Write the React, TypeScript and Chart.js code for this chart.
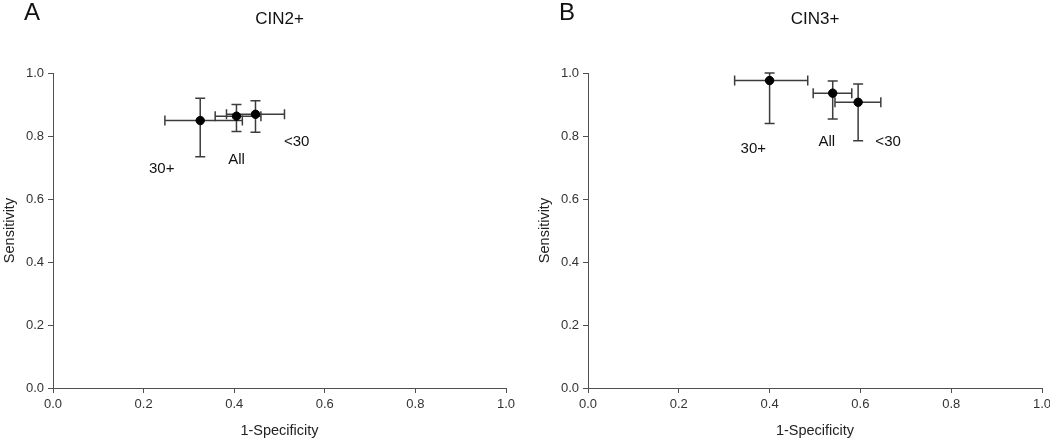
import React, { useEffect, useRef } from "react";
import { Chart, registerables } from "chart.js";

Chart.register(...registerables);

// ---- data ----
const groups = ["30+", "All", "<30"];

const cin2X = [0.325, 0.405, 0.447];
const cin2Y = [0.849, 0.863, 0.869];
const cin2XLow = [0.247, 0.358, 0.383];
const cin2XHigh = [0.418, 0.459, 0.511];
const cin2YLow = [0.734, 0.814, 0.812];
const cin2YHigh = [0.92, 0.9, 0.912];
const cin2LabelX = [0.24, 0.405, 0.538];
const cin2LabelY = [0.697, 0.724, 0.782];

const cin3X = [0.4, 0.539, 0.595];
const cin3Y = [0.976, 0.936, 0.907];
const cin3XLow = [0.323, 0.496, 0.544];
const cin3XHigh = [0.484, 0.581, 0.645];
const cin3YLow = [0.84, 0.854, 0.785];
const cin3YHigh = [1.0, 0.975, 0.965];
const cin3LabelX = [0.364, 0.526, 0.661];
const cin3LabelY = [0.758, 0.782, 0.782];

const axisTicks = [0, 0.2, 0.4, 0.6, 0.8, 1.0];

const FONT = "'Liberation Sans', Arial, sans-serif";
const AXIS_COLOR = "#505050";
const TEXT_COLOR = "#222222";

type PanelData = {
  letter: string;
  title: string;
  x: number[];
  y: number[];
  xLow: number[];
  xHigh: number[];
  yLow: number[];
  yHigh: number[];
  labelX: number[];
  labelY: number[];
};

const errorBarPlugin = {
  id: "errorBars",
  beforeDatasetsDraw(chart: any, _args: any, opts: any) {
    const d: PanelData = opts.data;
    if (!d) return;
    const xs = chart.scales.x;
    const ys = chart.scales.y;
    const ctx = chart.ctx;
    const cap = 5;
    ctx.save();
    ctx.strokeStyle = "#3c3c3c";
    ctx.lineWidth = 1.5;
    for (let i = 0; i < d.x.length; i++) {
      const px = xs.getPixelForValue(d.x[i]);
      const py = ys.getPixelForValue(d.y[i]);
      const x0 = xs.getPixelForValue(d.xLow[i]);
      const x1 = xs.getPixelForValue(d.xHigh[i]);
      const y0 = ys.getPixelForValue(d.yLow[i]);
      const y1 = ys.getPixelForValue(d.yHigh[i]);
      ctx.beginPath();
      // horizontal
      ctx.moveTo(x0, py);
      ctx.lineTo(x1, py);
      ctx.moveTo(x0, py - cap);
      ctx.lineTo(x0, py + cap);
      ctx.moveTo(x1, py - cap);
      ctx.lineTo(x1, py + cap);
      // vertical
      ctx.moveTo(px, y0);
      ctx.lineTo(px, y1);
      ctx.moveTo(px - cap, y0);
      ctx.lineTo(px + cap, y0);
      ctx.moveTo(px - cap, y1);
      ctx.lineTo(px + cap, y1);
      ctx.stroke();
    }
    ctx.restore();
  },
  afterDraw(chart: any, _args: any, opts: any) {
    const d: PanelData = opts.data;
    if (!d) return;
    const xs = chart.scales.x;
    const ys = chart.scales.y;
    const ctx = chart.ctx;
    const area = chart.chartArea;
    ctx.save();
    // point labels
    ctx.fillStyle = "#111111";
    ctx.font = `15px ${FONT}`;
    ctx.textAlign = "center";
    ctx.textBaseline = "middle";
    for (let i = 0; i < groups.length; i++) {
      ctx.fillText(
        groups[i],
        xs.getPixelForValue(d.labelX[i]),
        ys.getPixelForValue(d.labelY[i])
      );
    }
    // panel title
    ctx.font = `17px ${FONT}`;
    ctx.fillText(d.title, (area.left + area.right) / 2, 19);
    // panel letter
    ctx.font = `24px ${FONT}`;
    ctx.textAlign = "left";
    ctx.fillText(d.letter, area.left - 29, 13);
    ctx.restore();
  },
};

function Panel({
  data,
  padLeft,
  padRight,
}: {
  data: PanelData;
  padLeft: number;
  padRight: number;
}) {
  const ref = useRef<HTMLCanvasElement | null>(null);
  useEffect(() => {
    if (!ref.current) return;
    const points = data.x.map((v, i) => ({ x: v, y: data.y[i] }));
    const tickFont = { family: FONT, size: 13 };
    const titleFont = { family: FONT, size: 14.5 };
    const chart = new Chart(ref.current, {
      type: "scatter",
      data: {
        datasets: [
          {
            label: data.title,
            data: points,
            backgroundColor: "#000000",
            borderColor: "#000000",
            pointRadius: 4.2,
            pointHoverRadius: 4.2,
          },
        ],
      },
      options: {
        animation: false,
        responsive: false,
        events: [],
        layout: { padding: { left: padLeft, right: padRight, top: 73, bottom: 0 } },
        plugins: {
          legend: { display: false },
          title: { display: false },
          tooltip: { enabled: false },
          errorBars: { data },
        } as any,
        scales: {
          x: {
            type: "linear",
            min: 0,
            max: 1,
            afterBuildTicks: (s: any) => {
              s.ticks = axisTicks.map((v) => ({ value: v }));
            },
            afterFit: (s: any) => {
              s.height = 53;
              s.paddingLeft = 0;
              s.paddingRight = 0;
            },
            ticks: {
              autoSkip: false,
              maxRotation: 0,
              padding: 4,
              color: "#333333",
              font: tickFont,
              callback: (v: any) => Number(v).toFixed(1),
            },
            grid: {
              drawOnChartArea: false,
              drawTicks: true,
              tickLength: 5,
              color: AXIS_COLOR,
            },
            border: { display: true, color: AXIS_COLOR, width: 1 },
            title: {
              display: true,
              text: "1-Specificity",
              color: TEXT_COLOR,
              font: titleFont,
              padding: { top: 0, bottom: 1 },
            },
          },
          y: {
            type: "linear",
            min: 0,
            max: 1,
            afterBuildTicks: (s: any) => {
              s.ticks = axisTicks.map((v) => ({ value: v }));
            },
            afterFit: (s: any) => {
              s.width = 53;
              s.paddingTop = 0;
              s.paddingBottom = 0;
            },
            ticks: {
              autoSkip: false,
              padding: 4,
              color: "#333333",
              font: tickFont,
              callback: (v: any) => Number(v).toFixed(1),
            },
            grid: {
              drawOnChartArea: false,
              drawTicks: true,
              tickLength: 5,
              color: AXIS_COLOR,
            },
            border: { display: true, color: AXIS_COLOR, width: 1 },
            title: {
              display: true,
              text: "Sensitivity",
              color: TEXT_COLOR,
              font: titleFont,
              padding: { top: 1, bottom: 0 },
            },
          },
        },
      } as any,
      plugins: [errorBarPlugin],
    });
    return () => chart.destroy();
  }, [data, padLeft, padRight]);
  return <canvas ref={ref} width={525} height={441} style={{ display: "block" }} />;
}

const panelA: PanelData = {
  letter: "A",
  title: "CIN2+",
  x: cin2X,
  y: cin2Y,
  xLow: cin2XLow,
  xHigh: cin2XHigh,
  yLow: cin2YLow,
  yHigh: cin2YHigh,
  labelX: cin2LabelX,
  labelY: cin2LabelY,
};

const panelB: PanelData = {
  letter: "B",
  title: "CIN3+",
  x: cin3X,
  y: cin3Y,
  xLow: cin3XLow,
  xHigh: cin3XHigh,
  yLow: cin3YLow,
  yHigh: cin3YHigh,
  labelX: cin3LabelX,
  labelY: cin3LabelY,
};

export default function App() {
  return (
    <div
      style={{
        position: "absolute",
        left: 0,
        top: 0,
        width: 1050,
        height: 441,
        background: "#ffffff",
        overflow: "hidden",
      }}
    >
      <div style={{ position: "absolute", left: 0, top: 0 }}>
        <Panel data={panelA} padLeft={0} padRight={19} />
      </div>
      <div style={{ position: "absolute", left: 525, top: 0 }}>
        <Panel data={panelB} padLeft={10} padRight={8} />
      </div>
    </div>
  );
}
